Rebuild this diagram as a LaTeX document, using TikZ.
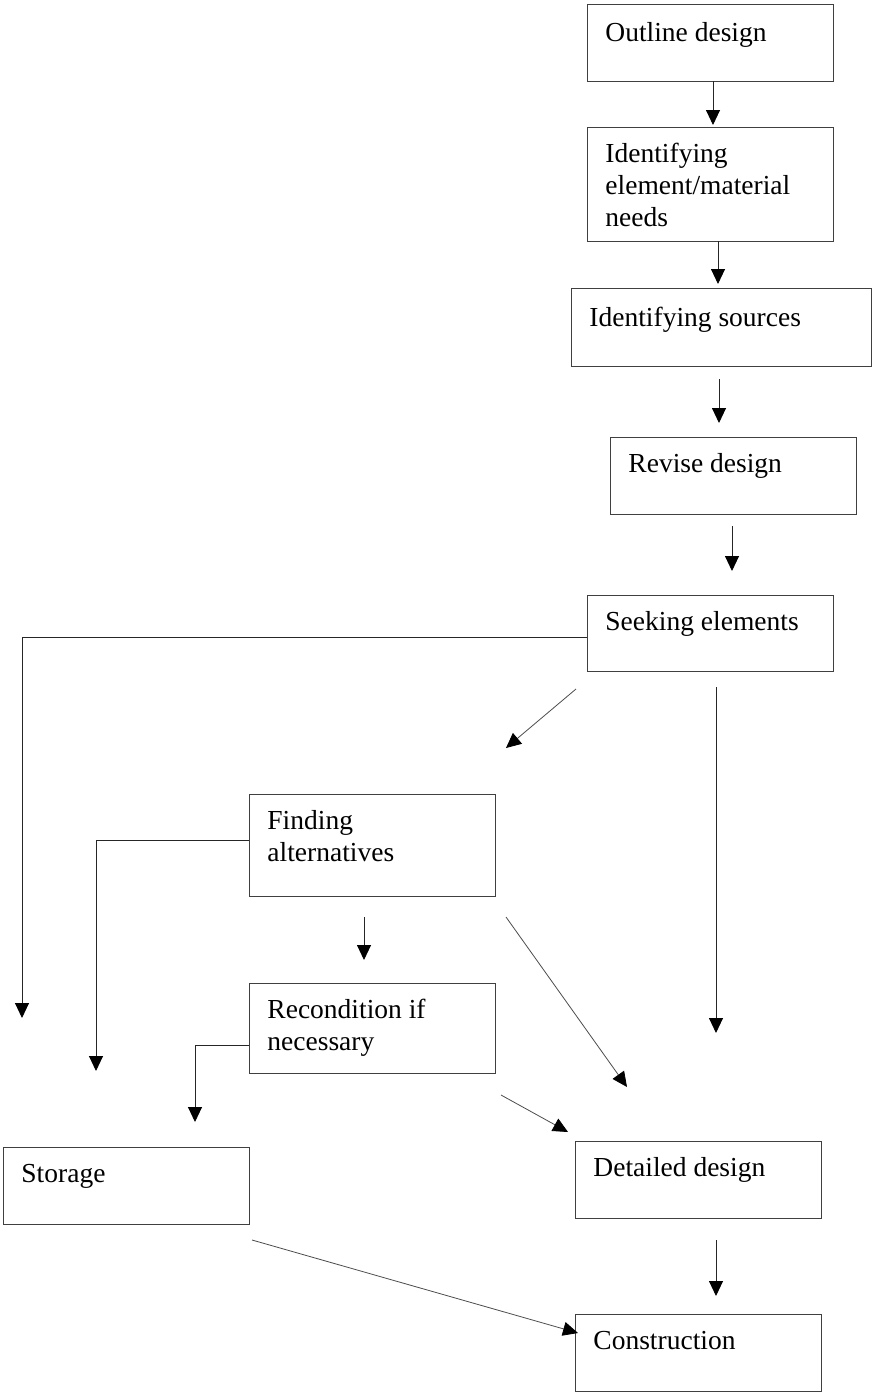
\documentclass[tikz,border=0pt]{standalone}
\usepackage{fontspec}
\setmainfont{Liberation Serif}
\usetikzlibrary{arrows.meta}
% box text: fixed-height top-aligned paragraph; #1 = distance of the first baseline below the top edge
\newcommand{\boxlines}[4][35pt]{\parbox[t][#2][t]{#3}{\raggedright\rule{0pt}{#1}#4}}
\begin{document}
\begin{tikzpicture}[x=1pt,y=-1pt,
  stepbox/.style={draw=black!75, line width=0.9pt, inner xsep=18pt, inner ysep=0pt,
    anchor=north west, font=\fontsize{27.5}{32}\selectfont},
  arr/.style={draw=black!85, line width=0.9pt,
    -{Triangle[length=15pt,width=14pt,color=black]}},
  thin arr/.style={arr, draw=black!70, line width=0.8pt}]
\useasboundingbox (0,0) rectangle (872,1393);

% process boxes
\node[stepbox] (outline) at (587,4)    {\boxlines[37pt]{77pt}{210pt}{Outline design}};
\node[stepbox] (needs)   at (587,127)  {\boxlines{114pt}{210pt}{Identifying\\element/material\\needs}};
\node[stepbox] (sources) at (571,288)  {\boxlines[38pt]{78pt}{264pt}{Identifying sources}};
\node[stepbox] (revise)  at (610,437)  {\boxlines{77pt}{210pt}{Revise design}};
\node[stepbox] (seeking) at (587,595)  {\boxlines{76pt}{210pt}{Seeking elements}};
\node[stepbox] (finding) at (249,794)  {\boxlines{102pt}{210pt}{Finding\\alternatives}};
\node[stepbox] (recond)  at (249,983)  {\boxlines{90pt}{210pt}{Recondition if\\necessary}};
\node[stepbox] (storage) at (3,1147)   {\boxlines{77pt}{210pt}{Storage}};
\node[stepbox] (detail)  at (575,1141) {\boxlines{77pt}{210pt}{Detailed design}};
\node[stepbox] (constr)  at (575,1314) {\boxlines{77pt}{210pt}{Construction}};

% connector end points
\coordinate (c1a) at (713,81);   \coordinate (c1b) at (713,125);
\coordinate (c2a) at (718,241);  \coordinate (c2b) at (718,284);
\coordinate (c3a) at (719,379);  \coordinate (c3b) at (719,423);
\coordinate (c4a) at (732,526);  \coordinate (c4b) at (732,571);
\coordinate (s1a) at (587,637);  \coordinate (s1k) at (22,637);  \coordinate (s1b) at (22,1018);
\coordinate (s2a) at (576,689);  \coordinate (s2b) at (506,748);
\coordinate (s3a) at (716,687);  \coordinate (s3b) at (716,1033);
\coordinate (f1a) at (249,840);  \coordinate (f1k) at (96,840);  \coordinate (f1b) at (96,1071);
\coordinate (f2a) at (364,917);  \coordinate (f2b) at (364,960);
\coordinate (f3a) at (506,917);  \coordinate (f3b) at (627,1087);
\coordinate (r1a) at (249,1045); \coordinate (r1k) at (195,1045); \coordinate (r1b) at (195,1122);
\coordinate (r2a) at (501,1095); \coordinate (r2b) at (568,1132);
\coordinate (t1a) at (252,1240); \coordinate (t1b) at (578,1333);
\coordinate (d1a) at (716,1240); \coordinate (d1b) at (716,1296);

% connectors
\draw[arr] (c1a) -- (c1b);
\draw[arr] (c2a) -- (c2b);
\draw[arr] (c3a) -- (c3b);
\draw[arr] (c4a) -- (c4b);
\draw[arr] (s1a) -- (s1k) -- (s1b);
\draw[thin arr] (s2a) -- (s2b);
\draw[arr] (s3a) -- (s3b);
\draw[arr] (f1a) -- (f1k) -- (f1b);
\draw[arr] (f2a) -- (f2b);
\draw[thin arr] (f3a) -- (f3b);
\draw[arr] (r1a) -- (r1k) -- (r1b);
\draw[thin arr] (r2a) -- (r2b);
\draw[thin arr] (t1a) -- (t1b);
\draw[arr] (d1a) -- (d1b);
\end{tikzpicture}
\end{document}
